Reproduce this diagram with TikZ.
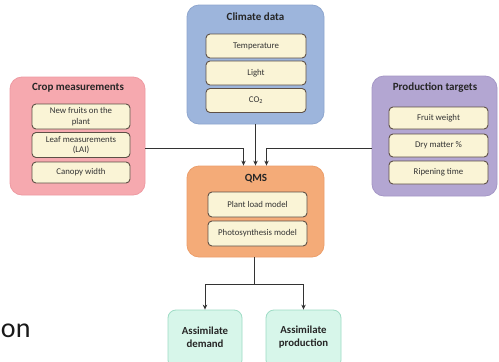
\documentclass[tikz,border=0pt]{standalone}
\usepackage{fontspec}
\setmainfont{Carlito}
\usetikzlibrary{arrows.meta,calc}
\definecolor{climfill}{HTML}{9DB5DC}
\definecolor{climdraw}{HTML}{8EA6CE}
\definecolor{cropfill}{HTML}{F6A9AF}
\definecolor{cropdraw}{HTML}{EE9AA2}
\definecolor{prodfill}{HTML}{B3A6D2}
\definecolor{proddraw}{HTML}{A597C6}
\definecolor{qmsfill}{HTML}{F4AB78}
\definecolor{qmsdraw}{HTML}{EC9E6A}
\definecolor{itemfill}{HTML}{FAF4D6}
\definecolor{itemdraw}{HTML}{5E5046}
\definecolor{outfill}{HTML}{D7F6EA}
\definecolor{outdraw}{HTML}{9EDCC5}
\definecolor{linec}{HTML}{333333}
\tikzset{
  group/.style={rounded corners=12pt, line width=0.8pt, inner sep=0pt},
  grptitle/.style={font=\bfseries\fontsize{11}{13}\selectfont, text=black!85, inner sep=0pt},
  item/.style={draw=itemdraw, fill=itemfill, rounded corners=4pt, line width=0.9pt,
    align=center, font=\fontsize{8.8}{10.5}\selectfont, text=black!80, inner sep=1pt},
  outbox/.style={draw=outdraw, fill=outfill, rounded corners=8pt, line width=0.8pt,
    inner sep=0pt},
  outtext/.style={align=center, font=\bfseries\fontsize{10.8}{13}\selectfont, text=black!85, inner sep=0pt},
  conn/.style={draw=linec, line width=0.9pt},
  arr/.style={conn, -{Stealth[length=5pt,width=4.5pt]}},
}
\begin{document}
\begin{tikzpicture}[x=1pt,y=-1pt]
\useasboundingbox (0,0) rectangle (499,362);
\clip (0,0) rectangle (499,362);
\fill[white] (0,0) rectangle (499,362);
% group boxes
\node[group, draw=climdraw, fill=climfill, minimum width=137pt, minimum height=119pt] (clim) at (255.5,64.5) {};
\node[group, draw=cropdraw, fill=cropfill, minimum width=135pt, minimum height=118pt] (crop) at (77.5,136) {};
\node[group, draw=proddraw, fill=prodfill, minimum width=125pt, minimum height=120pt] (prod) at (434.5,136) {};
\node[group, draw=qmsdraw, fill=qmsfill, minimum width=137pt, minimum height=91pt] (qms) at (255.5,211.5) {};
% titles
\node[grptitle] (climt) at (255.5,17) {Climate data};
\node[grptitle] (cropt) at (78,88) {Crop measurements};
\node[grptitle] (prodt) at (435,88) {Production targets};
\node[grptitle] (qmst) at (256,179) {QMS};
% climate items
\node[item, minimum width=100pt, minimum height=24pt] (temp) at (256,46) {Temperature};
\node[item, minimum width=100pt, minimum height=24pt] (light) at (256,73) {Light};
\node[item, minimum width=100pt, minimum height=24pt] (co2) at (256,100.5) {CO\textsubscript{2}};
% crop items
\node[item, minimum width=98pt, minimum height=25pt] (fruits) at (81,116.5) {New fruits on the\\plant};
\node[item, minimum width=98pt, minimum height=25pt] (leaf) at (81,145) {Leaf measurements\\(LAI)};
\node[item, minimum width=98pt, minimum height=21pt] (canopy) at (81,172.5) {Canopy width};
% production items
\node[item, minimum width=99pt, minimum height=22pt] (fw) at (438.5,118) {Fruit weight};
\node[item, minimum width=99pt, minimum height=23pt] (dm) at (438.5,145.5) {Dry matter \%};
\node[item, minimum width=99pt, minimum height=23pt] (rt) at (438.5,172.5) {Ripening time};
% qms items
\node[item, minimum width=99pt, minimum height=25pt] (plm) at (257.5,204.5) {Plant load model};
\node[item, minimum width=99pt, minimum height=25pt] (psm) at (257.5,233.5) {Photosynthesis model};
% outputs
\node[outbox, minimum width=74pt, minimum height=58pt] (dem) at (205,339) {};
\node[outbox, minimum width=75pt, minimum height=58pt] (aprod) at (303.5,339) {};
\node[outtext] (demt) at (205,337.5) {Assimilate\\demand};
\node[outtext] (aprodt) at (303.5,337.5) {Assimilate\\production};
% text at left edge
\node[anchor=base west, font=\fontsize{28}{32}\selectfont, text=black!90, inner sep=0pt] (on) at (0.8,337) {on};
% connectors
\draw[arr] (clim.south) -- (qms.north);
\draw[arr] ([yshift=-12pt]crop.east) -| ([xshift=-12pt]qms.north);
\draw[arr] ([yshift=-12pt]prod.west) -| ([xshift=11pt]qms.north);
\draw[conn] ([xshift=-1.5pt]qms.south) -- ++(0,27) coordinate (j);
\draw[arr] (j) -| (dem.north);
\draw[arr] (j) -| (aprod.north);
\end{tikzpicture}
\end{document}
